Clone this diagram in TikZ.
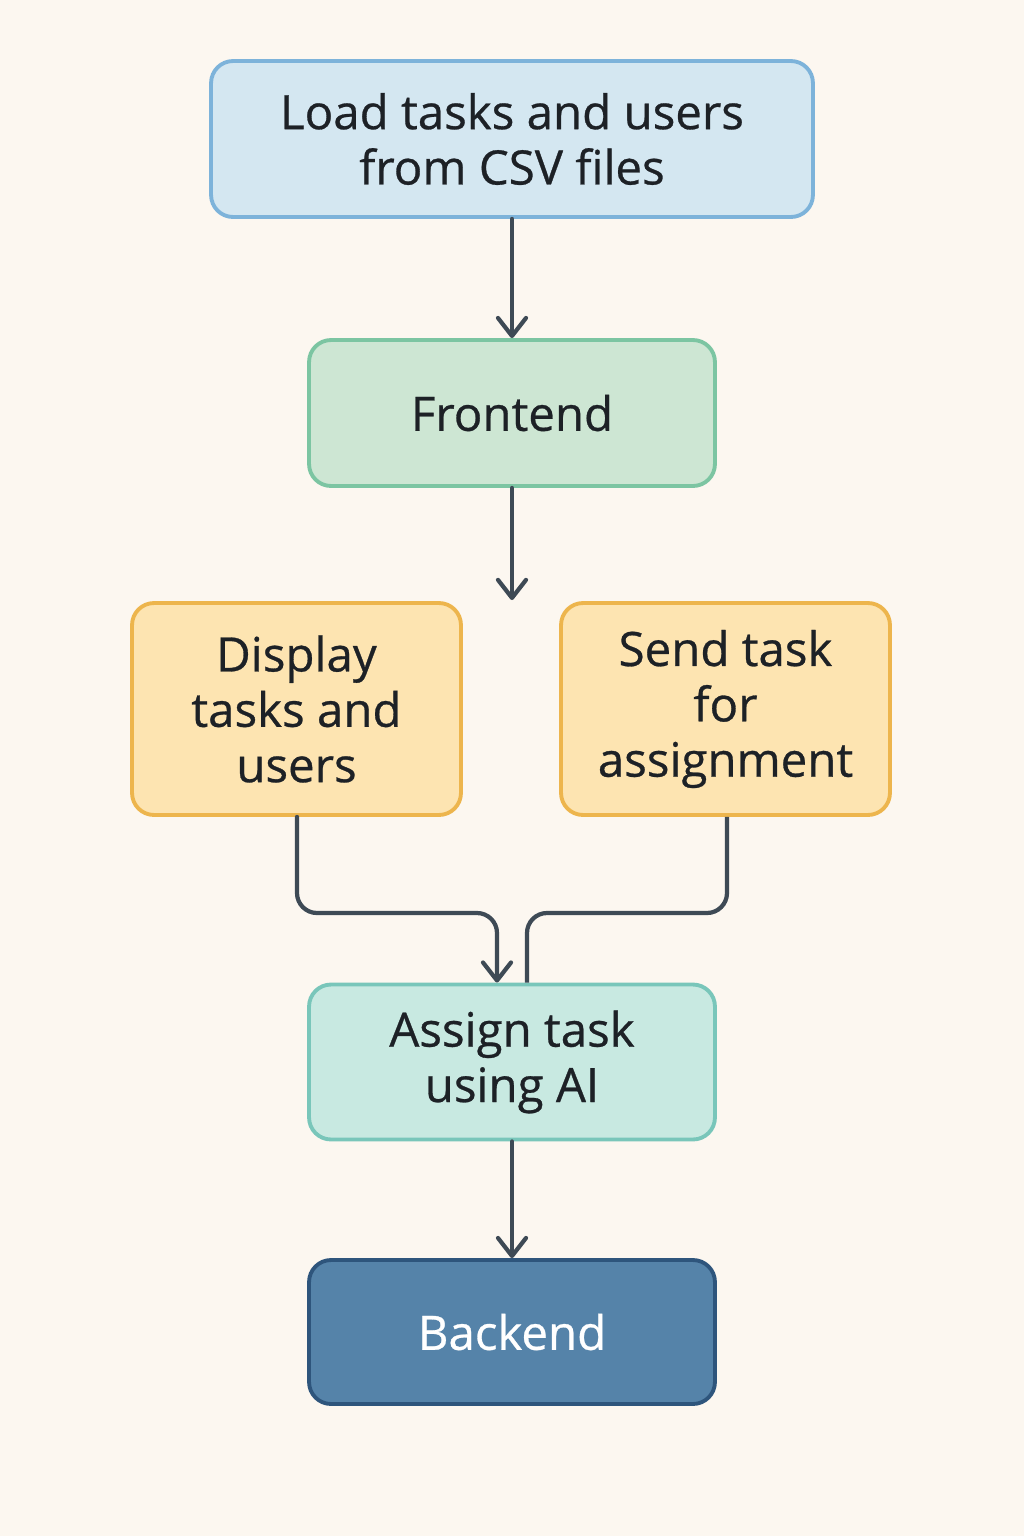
\documentclass[tikz,border=0pt]{standalone}
\usepackage{fontspec}
\setmainfont{Open Sans}
\newfontfamily\boxfont[FakeBold=0.6]{Open Sans}
\usetikzlibrary{arrows.meta, positioning}
\definecolor{bgcol}{HTML}{FCF7F0}
\definecolor{loadfill}{HTML}{D4E7F1}
\definecolor{loaddraw}{HTML}{7DB3DA}
\definecolor{frontfill}{HTML}{CDE6D3}
\definecolor{frontdraw}{HTML}{7CC5A2}
\definecolor{yelfill}{HTML}{FDE4B1}
\definecolor{yeldraw}{HTML}{EDB54D}
\definecolor{aifill}{HTML}{C8E9E1}
\definecolor{aidraw}{HTML}{79C6BA}
\definecolor{backfill}{HTML}{5583A9}
\definecolor{backdraw}{HTML}{2E557C}
\definecolor{linecol}{HTML}{3E4A55}
\definecolor{textcol}{HTML}{1D2126}
\tikzset{%
	box/.style={draw, rectangle, rounded corners=0.44cm, line width=2.2pt,%
		align=center, inner sep=0mm, text=textcol,%
		font=\boxfont\fontsize{27}{31.5}\selectfont},
	loadbox/.style={box, fill=loadfill, draw=loaddraw, minimum width=12.04cm, minimum height=3.12cm},
	frontbox/.style={box, fill=frontfill, draw=frontdraw, minimum width=8.12cm, minimum height=2.92cm},
	yelbox/.style={box, fill=yelfill, draw=yeldraw, minimum width=6.58cm, minimum height=4.24cm},
	aibox/.style={box, fill=aifill, draw=aidraw, minimum width=8.12cm, minimum height=3.1cm},
	backbox/.style={box, fill=backfill, draw=backdraw, text=white, minimum width=8.12cm, minimum height=2.88cm},
	flow/.style={draw=linecol, line width=2.4pt, line cap=round, line join=round,%
		-{Straight Barb[length=0.36cm, width=0.56cm, line cap=round, line join=round]}},
	link/.style={draw=linecol, line width=2.4pt, rounded corners=0.4cm}
}
\begin{document}
\begin{tikzpicture}[x=0.02cm, y=-0.02cm]
	\fill[bgcol] (0,0) rectangle (1024,1536);
	\useasboundingbox (0,0) rectangle (1024,1536);

	\node[loadbox] (load) at (512,139) {Load tasks and users\\from CSV files};
	\node[frontbox] (front) at (512,413) {Frontend};
	\node[yelbox] (show) at (296.5,709) {Display\\tasks and\\users};
	\node[yelbox] (send) at (725.5,709) {Send task\\for\\assignment};
	\node[aibox] (assign) at (512,1062) {Assign task\\using AI};
	\node[backbox] (back) at (512,1332) {Backend};
	\coordinate (split) at (512,600);

	\draw[flow] (load) to (front);
	\draw[flow] (front) to (split);
	\draw[link, flow] (show.south -| 297,0) |- (497,913) -- (assign.north -| 497,0);
	\draw[link] (send.south -| 727,0) |- (527,913) -- (assign.north -| 527,0);
	\draw[flow] (assign) to (back);
\end{tikzpicture}
\end{document}
